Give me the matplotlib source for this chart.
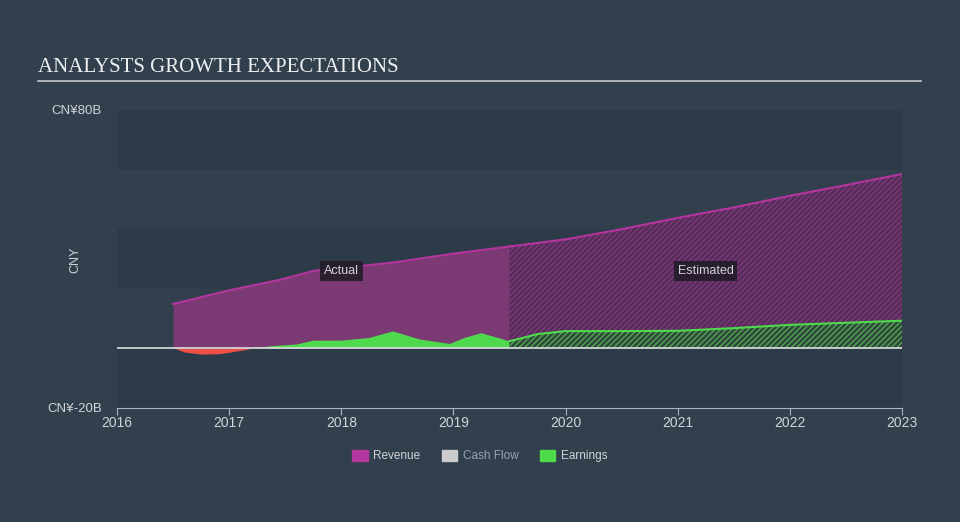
import matplotlib
matplotlib.use('Agg')
import matplotlib.pyplot as plt
from matplotlib.patches import Patch

plt.rcParams['font.family'] = ['Liberation Sans', 'DejaVu Sans']
plt.rcParams['hatch.linewidth'] = 0.9

# revenue, CN¥ billions
rev_act_x = [2016.5, 2017.0, 2017.45, 2017.75, 2018.0, 2018.46, 2019.0, 2019.5]
rev_act_y = [14.9, 19.5, 23.0, 26.0, 27.0, 28.8, 31.8, 34.2]
rev_est_x = [2019.5, 2020.0, 2020.5, 2021.0, 2021.5, 2022.0, 2022.5, 2023.0]
rev_est_y = [34.2, 36.6, 40.0, 43.8, 47.3, 51.2, 54.8, 58.5]

# earnings, CN¥ billions
earn_act_x = [2016.5, 2016.6, 2016.75, 2016.9, 2017.0, 2017.2, 2017.4, 2017.6,
              2017.75, 2018.0, 2018.25, 2018.46, 2018.7, 2018.97, 2019.1,
              2019.25, 2019.5]
earn_act_y = [0.3, -1.2, -1.9, -1.8, -1.3, 0.0, 0.8, 1.3,
              2.6, 2.6, 3.5, 5.7, 3.0, 1.5, 3.5,
              5.1, 2.4]
earn_est_x = [2019.5, 2019.75, 2020.0, 2020.5, 2021.0, 2021.5, 2022.0, 2022.5, 2023.0]
earn_est_y = [2.4, 4.8, 5.8, 5.8, 5.9, 6.8, 7.9, 8.6, 9.3]

years = [2016, 2017, 2018, 2019, 2020, 2021, 2022, 2023]
legend_names = ['Revenue', 'Cash Flow', 'Earnings']

bg = '#323f4d'
band = '#2d3a48'
rev_line = '#b4359e'
rev_fill = '#7b3a74'
green = '#4fd94c'
red = '#ee5047'
txt = '#d0d4d8'

fig = plt.figure(figsize=(9.6, 5.22), dpi=100, facecolor=bg)
ax = fig.add_axes([117/960, 114/522, 785/960, 298/522])
ax.set_facecolor(bg)

for lo, hi in [(60, 80), (20, 40), (-20, 0)]:
    ax.axhspan(lo, hi, color=band, lw=0, zorder=0)

# actual
ax.fill_between(rev_act_x, 0, rev_act_y, color=rev_fill, lw=0, zorder=1)
ax.plot(rev_act_x, rev_act_y, color=rev_line, lw=1.5, zorder=3)
ax.fill_between(earn_act_x, 0, earn_act_y, where=[v >= 0 for v in earn_act_y],
                interpolate=True, color=green, lw=0, zorder=2)
ax.fill_between(earn_act_x, 0, earn_act_y, where=[v <= 0 for v in earn_act_y],
                interpolate=True, color=red, lw=0, zorder=2)

# estimated
ax.fill_between(rev_est_x, 0, rev_est_y, facecolor='#542e58', edgecolor='#86377f',
                hatch='//////', lw=0, zorder=1)
ax.plot(rev_est_x, rev_est_y, color=rev_line, lw=1.5, zorder=3)
ax.fill_between(earn_est_x, 0, earn_est_y, facecolor='#2f4a3c', edgecolor='#55ad52',
                hatch='//////', lw=0, zorder=2)
ax.plot(earn_est_x, earn_est_y, color=green, lw=1.5, zorder=3)

ax.axhline(0, color='#dcdfe2', lw=1.2, zorder=4)

ax.set_xlim(2016, 2023)
ax.set_ylim(-20, 80)
ax.set_xticks(years)
ax.set_xticklabels([str(y) for y in years], fontsize=10, color=txt)
ax.set_yticks([-20, 80])
ax.set_yticklabels(['CN¥-20B', 'CN¥80B'], fontsize=9.5, color=txt)
ax.tick_params(axis='y', length=0, pad=11)
ax.tick_params(axis='x', length=5, color='#a8b4c0', pad=1)
for s in ['top', 'right', 'left']:
    ax.spines[s].set_visible(False)
ax.spines['bottom'].set_color('#a8b4c0')
fig.text(75/960, 1 - 260/522, 'CNY', fontsize=9, color=txt, rotation=90,
         ha='center', va='center')

box = dict(boxstyle='square,pad=0.3', facecolor='#221c29', edgecolor='none', alpha=0.9)
ax.text(2018.0, 26, 'Actual', fontsize=9, color=txt, ha='center', va='center',
        bbox=box, zorder=6)
ax.text(2021.25, 26, 'Estimated', fontsize=9, color=txt, ha='center', va='center',
        bbox=box, zorder=6)

fig.text(38/960, 1 - 68/522, 'ANALYSTS GROWTH EXPECTATIONS', family='Liberation Serif',
         fontsize=15, color='#eef0f2', va='center')
fig.add_artist(plt.Line2D([38/960, 921/960], [1 - 81/522] * 2, color='#c3c7cc', lw=1.2))

handles = [Patch(color=rev_line), Patch(color='#cccccc'), Patch(color=green)]
leg = fig.legend(handles, legend_names, loc='center', bbox_to_anchor=(0.5, 1 - 456/522),
                 ncol=3, frameon=False, fontsize=8.5, handlelength=1.3, handleheight=1.1,
                 columnspacing=1.8, handletextpad=0.5)
for t, c in zip(leg.get_texts(), [txt, '#9aa3ad', txt]):
    t.set_color(c)

fig.savefig('out.png', dpi=100, facecolor=bg)
